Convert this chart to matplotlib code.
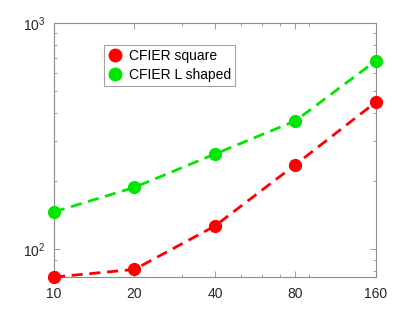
import matplotlib
matplotlib.use("Agg")
import matplotlib.pyplot as plt
from matplotlib.lines import Line2D
from matplotlib.ticker import FixedLocator, NullFormatter, LogFormatterSciNotation, FixedFormatter

plt.rcParams['font.family'] = ['Liberation Sans', 'DejaVu Sans']
plt.rcParams['mathtext.fontset'] = 'custom'
plt.rcParams['mathtext.rm'] = 'Liberation Sans'
plt.rcParams['mathtext.it'] = 'Liberation Sans:italic'

x_vals = [10, 20, 40, 80, 160]
square_vals = [75.5, 81.6, 127, 237, 448]
lshaped_vals = [146.5, 188, 264, 370, 682]
x_tick_labels = ['10', '20', '40', '80', '160']
series_names = ['CFIER square', 'CFIER L shaped']

red = '#ff0000'
green = '#00e600'
axis_gray = '#8c8c8c'
text_col = '#262626'

fig = plt.figure(figsize=(4.15, 3.12), dpi=100)
ax = fig.add_axes([0.13, 0.112, 0.776, 0.814])

ax.plot(x_vals, square_vals, color=red, lw=2.0, ls=(0, (4, 2.4)),
        marker='o', ms=8.5, markerfacecolor=red, markeredgecolor=red, clip_on=False, zorder=3)
ax.plot(x_vals, lshaped_vals, color=green, lw=2.0, ls=(0, (4, 2.4)),
        marker='o', ms=8.5, markerfacecolor=green, markeredgecolor=green, clip_on=False, zorder=3)

ax.set_xscale('log')
ax.set_yscale('log')
ax.set_xlim(min(x_vals), max(x_vals))
ax.set_ylim(min(square_vals), 1000)

ax.xaxis.set_major_locator(FixedLocator(x_vals))
ax.xaxis.set_major_formatter(FixedFormatter(x_tick_labels))
ax.xaxis.set_minor_formatter(NullFormatter())
ax.yaxis.set_major_formatter(LogFormatterSciNotation())
ax.yaxis.set_minor_formatter(NullFormatter())

for s in ax.spines.values():
    s.set_color(axis_gray)
    s.set_linewidth(0.8)
ax.tick_params(which='both', direction='in', top=True, right=True, color=axis_gray,
               labelcolor=text_col, labelsize=10, width=0.6)
ax.tick_params(which='major', length=4)
ax.tick_params(axis='x', which='major', pad=7)
ax.tick_params(axis='y', which='major', pad=6)
ax.tick_params(which='minor', length=2.5)

handles = [Line2D([], [], ls='none', marker='o', ms=9, color=red),
           Line2D([], [], ls='none', marker='o', ms=9, color=green)]
leg = fig.legend(handles, series_names, loc='upper left', bbox_to_anchor=(0.251, 0.857),
                 frameon=True, fancybox=False, fontsize=10, handlelength=1.0,
                 handletextpad=0.5, borderpad=0.3, labelspacing=0.35, borderaxespad=0)
leg.get_frame().set_edgecolor(axis_gray)
leg.get_frame().set_linewidth(0.8)
for t in leg.get_texts():
    t.set_color('black')

fig.savefig('out.png', dpi=100)
